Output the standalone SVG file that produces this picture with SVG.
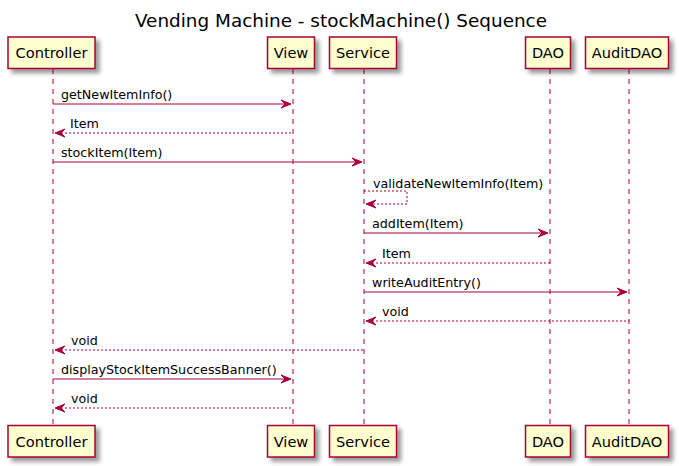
<svg xmlns="http://www.w3.org/2000/svg" width="679" height="466" viewBox="0 0 679 466">
<style>
.box{fill:#FEFECE;stroke:#A80036;stroke-width:1.5;filter:url(#sh)}
.life{stroke:#A80036;stroke-width:1;stroke-dasharray:5,5;fill:none}
.pt{font-family:"DejaVu Sans",sans-serif;font-size:14.6px;fill:#000}
.mt{font-family:"DejaVu Sans",sans-serif;font-size:12.7px;fill:#000}
.msg{stroke:#A80036;stroke-width:1;fill:none}
.ret{stroke:#A80036;stroke-width:1;fill:none;stroke-dasharray:2,2}
.ah{fill:#A80036;stroke:#A80036;stroke-width:1}
</style>
<defs>
<filter id="sh" x="-1" y="-1" width="300%" height="300%">
<feGaussianBlur in="SourceAlpha" stdDeviation="2" result="b"/>
<feColorMatrix in="b" type="matrix" values="0 0 0 0 0 0 0 0 0 0 0 0 0 0 0 0 0 0 0.4 0" result="c"/>
<feOffset in="c" dx="4" dy="4" result="o"/>
<feBlend in="SourceGraphic" in2="o" mode="normal"/>
</filter>
</defs>
<rect width="679" height="466" fill="#FFFFFF"/>
<text x="341" y="27" text-anchor="middle" font-family="DejaVu Sans,sans-serif" font-size="18.4">Vending Machine - stockMachine() Sequence</text>
<g id="lifelines">
<line class="life" x1="53" y1="69" x2="53" y2="426"/>
<line class="life" x1="293" y1="69" x2="293" y2="426"/>
<line class="life" x1="364" y1="69" x2="364" y2="426"/>
<line class="life" x1="550" y1="69" x2="550" y2="426"/>
<line class="life" x1="629" y1="69" x2="629" y2="426"/>
</g>
<g id="Controller">
<rect class="box" x="8" y="37" width="87" height="31.5"/>
<text class="pt" x="51.5" y="58" text-anchor="middle">Controller</text>
<rect class="box" x="8" y="425.5" width="87" height="31.5"/>
<text class="pt" x="51.5" y="446.5" text-anchor="middle">Controller</text>
</g>
<g id="View">
<rect class="box" x="267.5" y="37" width="47" height="31.5"/>
<text class="pt" x="291" y="58" text-anchor="middle">View</text>
<rect class="box" x="267.5" y="425.5" width="47" height="31.5"/>
<text class="pt" x="291" y="446.5" text-anchor="middle">View</text>
</g>
<g id="Service">
<rect class="box" x="329.5" y="37" width="67" height="31.5"/>
<text class="pt" x="363" y="58" text-anchor="middle">Service</text>
<rect class="box" x="329.5" y="425.5" width="67" height="31.5"/>
<text class="pt" x="363" y="446.5" text-anchor="middle">Service</text>
</g>
<g id="DAO">
<rect class="box" x="525.5" y="37" width="45" height="31.5"/>
<text class="pt" x="548" y="58" text-anchor="middle">DAO</text>
<rect class="box" x="525.5" y="425.5" width="45" height="31.5"/>
<text class="pt" x="548" y="446.5" text-anchor="middle">DAO</text>
</g>
<g id="AuditDAO">
<rect class="box" x="585.5" y="37" width="83" height="31.5"/>
<text class="pt" x="627" y="58" text-anchor="middle">AuditDAO</text>
<rect class="box" x="585.5" y="425.5" width="83" height="31.5"/>
<text class="pt" x="627" y="446.5" text-anchor="middle">AuditDAO</text>
</g>
<g id="connectors">
<line class="msg" x1="53" y1="104" x2="289" y2="104"/>
<polygon class="ah" points="281,100 291,104 281,108 285,104"/>
<text class="mt" x="61" y="99">getNewItemInfo()</text>

<line class="ret" x1="57" y1="133" x2="293" y2="133"/>
<polygon class="ah" points="65,129 55,133 65,137 61,133"/>
<text class="mt" x="70" y="128">Item</text>

<line class="msg" x1="53" y1="162" x2="360" y2="162"/>
<polygon class="ah" points="352,158 362,162 352,166 356,162"/>
<text class="mt" x="61" y="157">stockItem(Item)</text>

<polyline class="ret" points="364,191 407,191 407,204 368,204"/>
<polygon class="ah" points="376,200 366,204 376,208 372,204"/>
<text class="mt" x="373" y="188">validateNewItemInfo(Item)</text>

<line class="msg" x1="364" y1="233" x2="546" y2="233"/>
<polygon class="ah" points="538,229 548,233 538,237 542,233"/>
<text class="mt" x="372" y="228">addItem(Item)</text>

<line class="ret" x1="368" y1="263" x2="550" y2="263"/>
<polygon class="ah" points="376,259 366,263 376,267 372,263"/>
<text class="mt" x="382" y="258">Item</text>

<line class="msg" x1="364" y1="292" x2="625" y2="292"/>
<polygon class="ah" points="617,288 627,292 617,296 621,292"/>
<text class="mt" x="372" y="287">writeAuditEntry()</text>

<line class="ret" x1="368" y1="321" x2="629" y2="321"/>
<polygon class="ah" points="376,317 366,321 376,325 372,321"/>
<text class="mt" x="382" y="316">void</text>

<line class="ret" x1="57" y1="350" x2="364" y2="350"/>
<polygon class="ah" points="65,346 55,350 65,354 61,350"/>
<text class="mt" x="71" y="345">void</text>

<line class="msg" x1="53" y1="379" x2="289" y2="379"/>
<polygon class="ah" points="281,375 291,379 281,383 285,379"/>
<text class="mt" x="61" y="374">displayStockItemSuccessBanner()</text>

<line class="ret" x1="57" y1="408" x2="293" y2="408"/>
<polygon class="ah" points="65,404 55,408 65,412 61,408"/>
<text class="mt" x="71" y="403">void</text>
</g>
</svg>
